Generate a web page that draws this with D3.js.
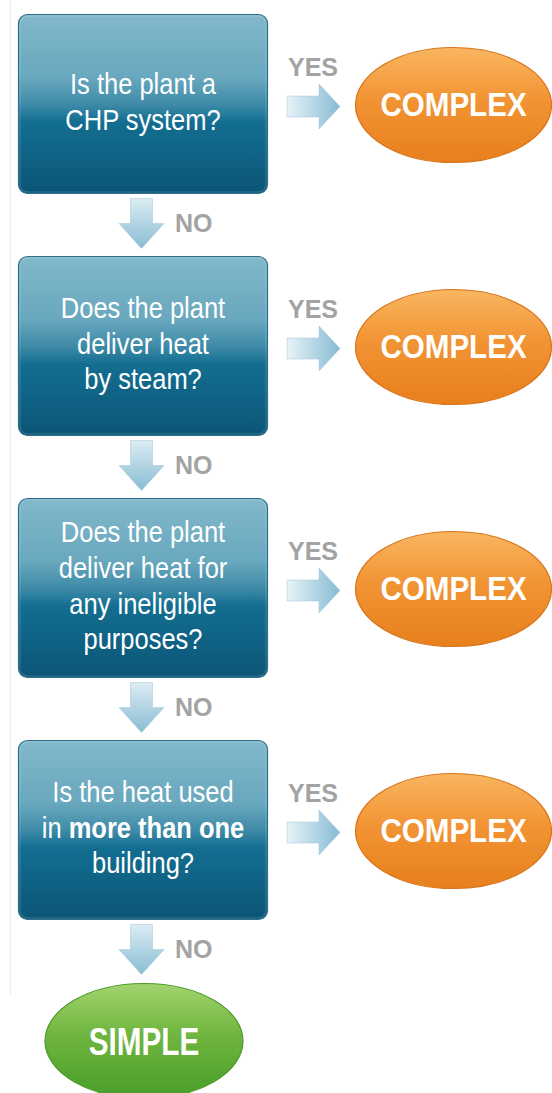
<!DOCTYPE html>
<html>
<head>
<meta charset="utf-8">
<script src="https://cdnjs.cloudflare.com/ajax/libs/d3/7.8.5/d3.min.js"></script>
<style>
  html, body { margin: 0; padding: 0; background: #ffffff; }
  svg { display: block; }
</style>
</head>
<body>
<script>
// ---- data ----
const questions = [
  ["Is the plant a", "CHP system?"],
  ["Does the plant", "deliver heat", "by steam?"],
  ["Does the plant", "deliver heat for", "any ineligible", "purposes?"],
  ["Is the heat used", "in **more than one**", "building?"]
];
const yesOutcomes = ["COMPLEX", "COMPLEX", "COMPLEX", "COMPLEX"];
const finalOutcome = "SIMPLE";
const yesLabel = "YES";
const noLabel = "NO";

// ---- layout ----
const W = 552, H = 1093;
const boxW = 249, boxH = 179;
const boxX = 18.5;
const stepY = d3.scaleLinear().domain([0, questions.length - 1]).range([14.5, 740.5]);
const lineH = 36;
const FONT = "'Liberation Sans', Arial, Helvetica, sans-serif";
const condense = 0.85;

const svg = d3.select("body").append("svg").attr("width", W).attr("height", H);
const defs = svg.append("defs");

function linGrad(id, x2, y2, stops) {
  const g = defs.append("linearGradient").attr("id", id)
    .attr("x1", 0).attr("y1", 0).attr("x2", x2).attr("y2", y2);
  stops.forEach(s => g.append("stop").attr("offset", s[0]).attr("stop-color", s[1]));
}
linGrad("boxGrad", 0, 1, [["0%", "#82b8ca"], ["35%", "#69a8be"], ["50%", "#3f8ba8"], ["60%", "#136e91"], ["100%", "#0b5576"]]);
linGrad("orangeGrad", 0, 1, [["0%", "#f8b660"], ["45%", "#f29434"], ["100%", "#e77f1c"]]);
linGrad("greenGrad", 0, 1, [["0%", "#a3d36e"], ["45%", "#6fb53f"], ["100%", "#4a9d2a"]]);
linGrad("rightArrowGrad", 1, 0, [["0%", "#e8f3f8"], ["100%", "#86bbd3"]]);
linGrad("downArrowGrad", 0, 1, [["0%", "#dcecf3"], ["100%", "#88bcd3"]]);

// faint left rule
svg.append("line").attr("x1", 10.5).attr("x2", 10.5).attr("y1", 0).attr("y2", 995)
  .attr("stroke", "#f2eddc").attr("stroke-width", 1);

const rows = svg.selectAll("g.row").data(questions).join("g")
  .attr("class", "row")
  .attr("transform", (d, i) => `translate(0,${stepY(i)})`);

// question boxes
rows.append("rect")
  .attr("x", boxX).attr("y", 0).attr("width", boxW).attr("height", boxH)
  .attr("rx", 9).attr("ry", 9)
  .attr("fill", "url(#boxGrad)")
  .attr("stroke", "#2b6f8a").attr("stroke-width", 1.2);
rows.append("rect")
  .attr("x", boxX + 1.5).attr("y", 1.5).attr("width", boxW - 3).attr("height", boxH - 3)
  .attr("rx", 8).attr("ry", 8)
  .attr("fill", "none")
  .attr("stroke", "rgba(255,255,255,0.18)").attr("stroke-width", 1);

// question text
const cx = boxX + boxW / 2;
rows.each(function (lines) {
  const g = d3.select(this).append("g")
    .attr("transform", `translate(${cx},${boxH / 2}) scale(${condense},1)`);
  lines.forEach((ln, i) => {
    const t = g.append("text")
      .attr("x", 0)
      .attr("y", (i - (lines.length - 1) / 2) * lineH - 3)
      .attr("dy", "0.35em")
      .attr("text-anchor", "middle")
      .attr("font-family", FONT)
      .attr("font-size", 30)
      .attr("fill", "#ffffff");
    ln.split(/(\*\*[^*]+\*\*)/).filter(s => s.length).forEach(seg => {
      const bold = seg.startsWith("**");
      t.append("tspan")
        .attr("font-weight", bold ? "bold" : "normal")
        .text(bold ? seg.slice(2, -2) : seg);
    });
  });
});

// YES labels
rows.append("text")
  .attr("x", 313).attr("y", 61)
  .attr("text-anchor", "middle")
  .attr("font-family", FONT).attr("font-weight", "bold").attr("font-size", 25)
  .attr("fill", "#a3a3a3")
  .text(yesLabel);

// right arrows
const rightArrow = d3.line()([[287, 81.5], [319, 81.5], [319, 69.5], [340, 92], [319, 114.5], [319, 102.5], [287, 102.5]]) + "Z";
rows.append("path")
  .attr("d", rightArrow)
  .attr("fill", "url(#rightArrowGrad)")
  .attr("stroke", "#9cc6da").attr("stroke-width", 0.5)
  .attr("stroke-linejoin", "round");

// COMPLEX ellipses
const ell = rows.append("g").attr("transform", `translate(453.5,90.5)`);
ell.append("ellipse").attr("rx", 98).attr("ry", 57.5)
  .attr("fill", "url(#orangeGrad)")
  .attr("stroke", "#d9741a").attr("stroke-width", 1.2);
ell.append("g").attr("transform", `scale(0.87,1)`)
  .append("text")
  .attr("x", 0).attr("y", -1).attr("dy", "0.36em")
  .attr("text-anchor", "middle")
  .attr("font-family", FONT).attr("font-weight", "bold").attr("font-size", 34)
  .attr("fill", "#ffffff");
ell.each(function (d, i) {
  d3.select(this).select("text").text(yesOutcomes[i]);
});

// down arrows + NO labels
const downArrow = d3.line()([[130.5, 184], [152.5, 184], [152.5, 209], [164, 209], [141.5, 234], [119, 209], [130.5, 209]]) + "Z";
rows.append("path")
  .attr("d", downArrow)
  .attr("fill", "url(#downArrowGrad)")
  .attr("stroke", "#9cc6da").attr("stroke-width", 0.5)
  .attr("stroke-linejoin", "round");
rows.append("text")
  .attr("x", 175).attr("y", 208)
  .attr("dy", "0.36em")
  .attr("font-family", FONT).attr("font-weight", "bold").attr("font-size", 25)
  .attr("fill", "#a3a3a3")
  .text(noLabel);

// SIMPLE ellipse
const s = svg.append("g").attr("transform", "translate(144,1041)");
s.append("ellipse").attr("rx", 99).attr("ry", 57.5)
  .attr("fill", "url(#greenGrad)")
  .attr("stroke", "#4a9a2a").attr("stroke-width", 1.2);
s.append("g").attr("transform", "scale(0.78,1)")
  .append("text")
  .attr("x", 0).attr("y", 0).attr("dy", "0.36em")
  .attr("text-anchor", "middle")
  .attr("font-family", FONT).attr("font-weight", "bold").attr("font-size", 38)
  .attr("fill", "#ffffff")
  .text(finalOutcome);
</script>
</body>
</html>
